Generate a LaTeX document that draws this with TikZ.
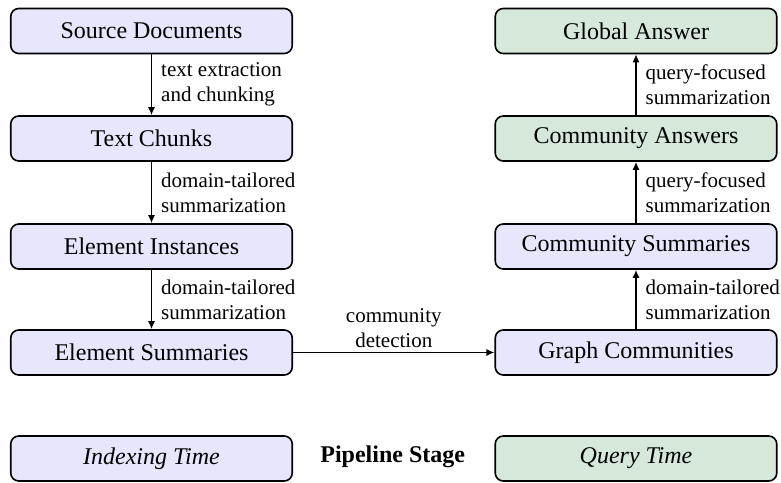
\documentclass[tikz,border=0pt]{standalone}
\usepackage{fontspec}
\setmainfont{Liberation Serif}
\usetikzlibrary{arrows.meta}
\definecolor{idxblue}{RGB}{230,230,252}
\definecolor{qgreen}{RGB}{213,232,218}
\begin{document}
\begin{tikzpicture}[x=1pt,y=-1pt,
  stage/.style={draw=black, line width=1.6pt, rounded corners=8pt,
    minimum width=281.5pt, minimum height=45pt, inner sep=0pt,
    font=\fontsize{24}{29}\selectfont},
  idx/.style={stage, fill=idxblue},
  qry/.style={stage, fill=qgreen},
  conn/.style={line width=1.4pt, -{Latex[length=8pt,width=7pt]}},
  elabel/.style={font=\fontsize{21}{25}\selectfont, align=left, inner sep=0pt}]
\useasboundingbox (0,0) rectangle (781,482);
% left column
\node[idx] (src) at (151.5,31) {Source Documents};
\node[idx] (chunks) at (151.5,138.5) {Text Chunks};
\node[idx] (inst) at (151.5,246.5) {Element Instances};
\node[idx] (esum) at (151.5,352.5) {Element Summaries};
\node[idx] (itime) at (151.5,458.5) {\itshape Indexing Time};
% right column
\node[qry] (glob) at (636,31) {Global Answer};
\node[qry] (cans) at (636,138.5) {Community Answers};
\node[idx] (csum) at (636,246.5) {Community Summaries};
\node[idx] (gcom) at (636,352.5) {Graph Communities};
\node[qry] (qtime) at (636,458.5) {\itshape Query Time};
% legend label
\node[anchor=base, font=\fontsize{24}{29}\selectfont\bfseries, inner sep=0pt] (pstage) at (392.7,462) {Pipeline Stage};
% connectors
\draw[conn] (src) -- node[elabel, right=9pt] {text extraction\\and chunking} (chunks);
\draw[conn] (chunks) -- node[elabel, right=9pt] {domain-tailored\\summarization} (inst);
\draw[conn] (inst) -- node[elabel, right=9pt] {domain-tailored\\summarization} (esum);
\draw[conn] (esum) -- node[elabel, align=center, above=4pt] {community\\detection} (gcom);
\draw[conn] (gcom) -- node[elabel, right=9pt] {domain-tailored\\summarization} (csum);
\draw[conn] (csum) -- node[elabel, right=9pt] {query-focused\\summarization} (cans);
\draw[conn] (cans) -- node[elabel, right=9pt] {query-focused\\summarization} (glob);
\end{tikzpicture}
\end{document}
